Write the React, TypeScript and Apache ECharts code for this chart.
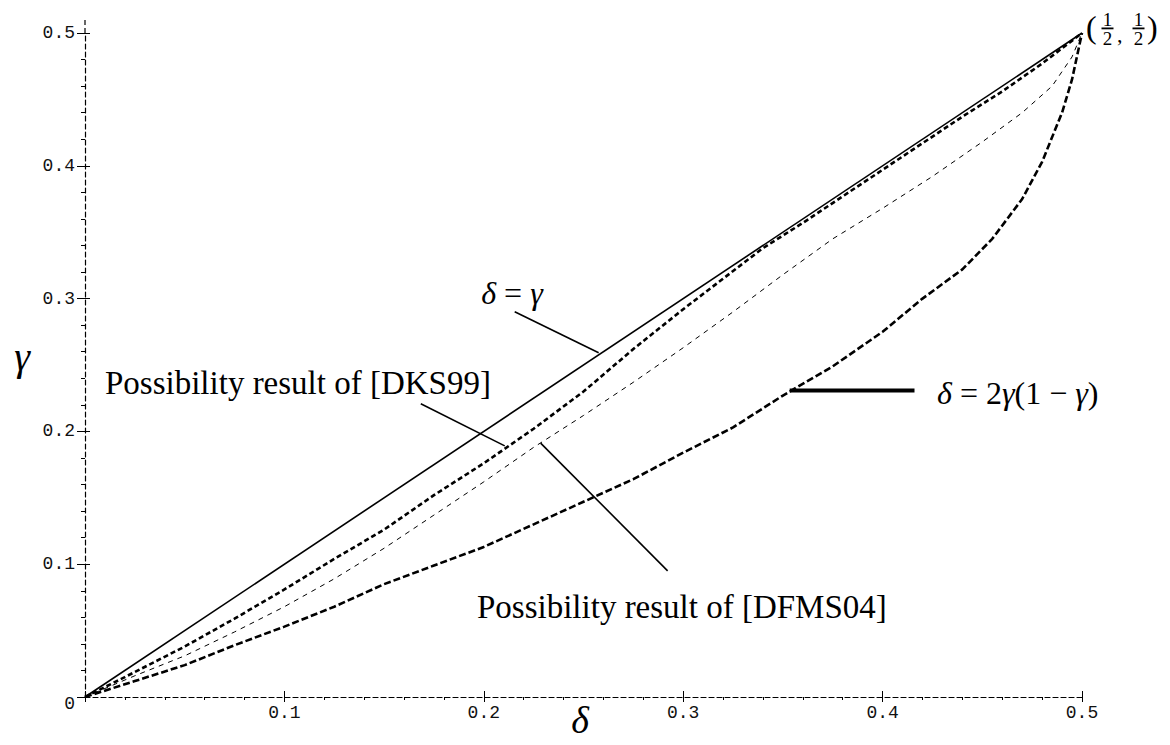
import React, { useEffect, useRef } from "react";
import * as echarts from "echarts";

// ---- data ----
const identityX = [0, 0.5];
const identityY = [0, 0.5];

const dks99X = [0, 0.02, 0.05, 0.075, 0.1, 0.125, 0.15, 0.175, 0.2, 0.225, 0.25, 0.275, 0.3, 0.32, 0.34, 0.36, 0.38, 0.4, 0.42, 0.44, 0.46, 0.48, 0.5];
const dks99Y = [0, 0.015, 0.038, 0.059, 0.081, 0.104, 0.126, 0.152, 0.176, 0.202, 0.23, 0.262, 0.292, 0.315, 0.338, 0.357, 0.377, 0.397, 0.417, 0.437, 0.456, 0.477, 0.5];

const dfms04X = [0, 0.025, 0.05, 0.075, 0.1, 0.125, 0.15, 0.175, 0.2, 0.225, 0.25, 0.275, 0.3, 0.325, 0.35, 0.375, 0.4, 0.425, 0.45, 0.47, 0.485, 0.495, 0.5];
const dfms04Y = [0, 0.016, 0.031, 0.049, 0.068, 0.089, 0.112, 0.137, 0.162, 0.188, 0.212, 0.237, 0.263, 0.29, 0.318, 0.345, 0.368, 0.392, 0.418, 0.44, 0.46, 0.482, 0.5];

const boundX = [0, 0.025, 0.05, 0.075, 0.1, 0.125, 0.15, 0.175, 0.2, 0.225, 0.25, 0.275, 0.3, 0.325, 0.35, 0.375, 0.4, 0.42, 0.44, 0.455, 0.47, 0.48, 0.49, 0.495, 0.5];
const boundY = [0, 0.012, 0.024, 0.039, 0.053, 0.068, 0.085, 0.099, 0.113, 0.13, 0.147, 0.164, 0.184, 0.203, 0.227, 0.249, 0.275, 0.3, 0.322, 0.345, 0.375, 0.403, 0.44, 0.465, 0.5];

// annotation leader lines (data coordinates)
const leaderIdentityX = [0.2155, 0.2576];
const leaderIdentityY = [0.2901, 0.2592];
const leaderDks99X = [0.1684, 0.2105];
const leaderDks99Y = [0.2208, 0.1891];
const leaderDfms04X = [0.2285, 0.2922];
const leaderDfms04Y = [0.1912, 0.095];
const leaderBoundX = [0.3534, 0.416];
const leaderBoundY = [0.2308, 0.2308];

const axisMin = 0;
const axisMax = 0.5;
const tickInterval = 0.1;

const zip = (xs: number[], ys: number[]) => xs.map((x, i) => [x, ys[i]]);

const SERIF = '"Liberation Serif", "Times New Roman", serif';
const MONO = '"Liberation Mono", "Courier New", monospace';

export default function App() {
  const ref = useRef<HTMLDivElement>(null);

  useEffect(() => {
    if (!ref.current) return;
    const chart = echarts.init(ref.current, undefined, { renderer: "svg" });

    const dashedAxisLine = { show: true, onZero: false, lineStyle: { color: "#000", width: 1.2, type: [5, 3] as any } };

    const baseX = {
      type: "value",
      min: axisMin,
      max: axisMax,
      interval: tickInterval,
      position: "bottom",
      splitLine: { show: false },
    };
    const baseY = {
      type: "value",
      min: axisMin,
      max: axisMax,
      interval: tickInterval,
      position: "left",
      splitLine: { show: false },
    };

    const option: any = {
      animation: false,
      backgroundColor: "#fff",
      grid: { left: 85, right: 88, top: 33, bottom: 48, containLabel: false },
      xAxis: [
        {
          ...baseX,
          axisLine: dashedAxisLine,
          axisTick: { show: true, inside: false, length: 5, lineStyle: { color: "#000", width: 1 } },
          minorTick: { show: true, splitNumber: 5, length: 3, lineStyle: { color: "#000", width: 1 } },
          axisLabel: {
            show: true,
            showMinLabel: false,
            margin: 7,
            color: "#111",
            fontFamily: MONO,
            fontSize: 18,
            formatter: (v: number) => v.toFixed(1),
          },
        },
        {
          ...baseX,
          axisLine: { show: false },
          axisTick: { show: true, inside: true, length: 6, lineStyle: { color: "#000", width: 1 } },
          axisLabel: { show: false },
        },
      ],
      yAxis: [
        {
          ...baseY,
          axisLine: dashedAxisLine,
          axisTick: { show: true, inside: false, length: 8, lineStyle: { color: "#000", width: 1 } },
          minorTick: { show: true, splitNumber: 5, length: 4, lineStyle: { color: "#000", width: 1 } },
          axisLabel: {
            show: true,
            margin: 10,
            color: "#111",
            fontFamily: MONO,
            fontSize: 18,
            formatter: (v: number) => (v === 0 ? "{z|0}" : v.toFixed(1)),
            rich: { z: { padding: [14, 0, 0, 0], fontFamily: MONO, fontSize: 18, color: "#111" } },
          },
        },
        {
          ...baseY,
          axisLine: { show: false },
          axisTick: { show: true, inside: true, length: 5, lineStyle: { color: "#000", width: 1 } },
          axisLabel: { show: false },
        },
      ],
      series: [
        {
          name: "δ = γ",
          type: "line",
          data: zip(identityX, identityY),
          symbol: "none",
          lineStyle: { color: "#000", width: 1.6, type: "solid" },
          z: 5,
        },
        {
          name: "Possibility result of [DKS99]",
          type: "line",
          data: zip(dks99X, dks99Y),
          symbol: "none",
          lineStyle: { color: "#000", width: 2.6, type: [5, 3] },
          z: 4,
        },
        {
          name: "Possibility result of [DFMS04]",
          type: "line",
          data: zip(dfms04X, dfms04Y),
          symbol: "none",
          lineStyle: { color: "#000", width: 1, type: [5, 5] },
          z: 3,
        },
        {
          name: "δ = 2γ(1 − γ)",
          type: "line",
          data: zip(boundX, boundY),
          symbol: "none",
          lineStyle: { color: "#000", width: 2.6, type: [7, 3] },
          z: 3,
        },
        {
          name: "leader-identity",
          type: "line",
          data: zip(leaderIdentityX, leaderIdentityY),
          symbol: "none",
          lineStyle: { color: "#000", width: 1.6 },
        },
        {
          name: "leader-dks99",
          type: "line",
          data: zip(leaderDks99X, leaderDks99Y),
          symbol: "none",
          lineStyle: { color: "#000", width: 1.6 },
        },
        {
          name: "leader-dfms04",
          type: "line",
          data: zip(leaderDfms04X, leaderDfms04Y),
          symbol: "none",
          lineStyle: { color: "#000", width: 1.6 },
        },
        {
          name: "leader-bound",
          type: "line",
          data: zip(leaderBoundX, leaderBoundY),
          symbol: "none",
          lineStyle: { color: "#000", width: 4 },
        },
      ],
      graphic: [
        // y-axis line extension above 0.5
        {
          type: "line",
          shape: { x1: 85, y1: 20, x2: 85, y2: 33 },
          style: { stroke: "#000", lineWidth: 1.2, lineDash: [5, 3] },
        },
        // axis names
        {
          type: "text",
          x: 22,
          y: 356,
          style: { text: "γ", font: `italic 40px ${SERIF}`, fill: "#000", align: "center", verticalAlign: "middle" },
        },
        {
          type: "text",
          x: 580,
          y: 720,
          style: { text: "δ", font: `italic 38px ${SERIF}`, fill: "#000", align: "center", verticalAlign: "middle" },
        },
        // annotations
        {
          type: "text",
          x: 512,
          y: 293,
          style: {
            text: "{i|δ} = {i|γ}",
            font: `32px ${SERIF}`,
            fill: "#000",
            align: "center",
            verticalAlign: "middle",
            rich: { i: { fontStyle: "italic", fontFamily: SERIF, fontSize: 32 } },
          },
        },
        {
          type: "text",
          x: 105,
          y: 383,
          style: { text: "Possibility result of [DKS99]", font: `33px ${SERIF}`, fill: "#000", align: "left", verticalAlign: "middle" },
        },
        {
          type: "text",
          x: 477,
          y: 607,
          style: { text: "Possibility result of [DFMS04]", font: `33px ${SERIF}`, fill: "#000", align: "left", verticalAlign: "middle" },
        },
        {
          type: "text",
          x: 937,
          y: 393,
          style: {
            text: "{i|δ} = 2{i|γ}(1 − {i|γ})",
            font: `32px ${SERIF}`,
            fill: "#000",
            align: "left",
            verticalAlign: "middle",
            rich: { i: { fontStyle: "italic", fontFamily: SERIF, fontSize: 32 } },
          },
        },
        // (1/2, 1/2)
        {
          type: "group",
          children: [
            { type: "text", x: 1086, y: 27, style: { text: "(", font: `32px ${SERIF}`, fill: "#000", align: "left", verticalAlign: "middle" } },
            { type: "text", x: 1107.5, y: 19, style: { text: "1", font: `19px ${SERIF}`, fill: "#000", align: "center", verticalAlign: "middle" } },
            { type: "rect", shape: { x: 1101.5, y: 27.5, width: 12, height: 1.8 }, style: { fill: "#000" } },
            { type: "text", x: 1107.5, y: 38.5, style: { text: "2", font: `19px ${SERIF}`, fill: "#000", align: "center", verticalAlign: "middle" } },
            { type: "text", x: 1117, y: 34, style: { text: ",", font: `22px ${SERIF}`, fill: "#000", align: "left", verticalAlign: "middle" } },
            { type: "text", x: 1138.5, y: 19, style: { text: "1", font: `19px ${SERIF}`, fill: "#000", align: "center", verticalAlign: "middle" } },
            { type: "rect", shape: { x: 1132.5, y: 27.5, width: 12, height: 1.8 }, style: { fill: "#000" } },
            { type: "text", x: 1138.5, y: 38.5, style: { text: "2", font: `19px ${SERIF}`, fill: "#000", align: "center", verticalAlign: "middle" } },
            { type: "text", x: 1147, y: 27, style: { text: ")", font: `32px ${SERIF}`, fill: "#000", align: "left", verticalAlign: "middle" } },
          ],
        },
      ],
    };

    chart.setOption(option);
    return () => chart.dispose();
  }, []);

  return <div ref={ref} style={{ position: "fixed", left: 0, top: 0, width: 1170, height: 745, background: "#fff" }} />;
}
